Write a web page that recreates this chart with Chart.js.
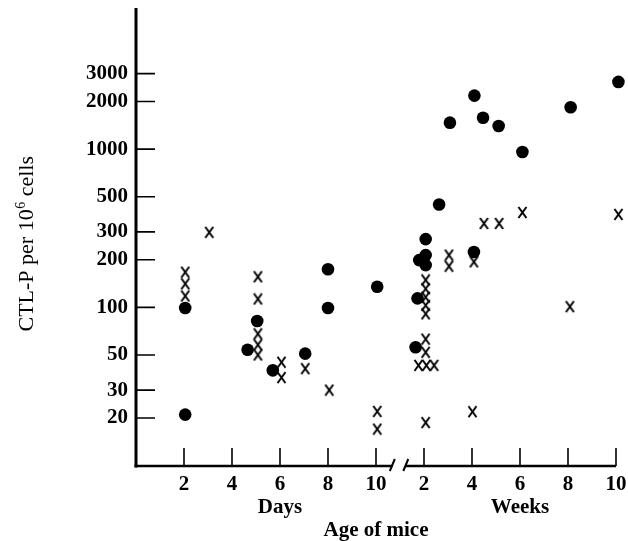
<!DOCTYPE html>
<html><head><meta charset="utf-8">
<script src="https://cdn.jsdelivr.net/npm/chart.js@4.4.1/dist/chart.umd.min.js"></script>
<style>html,body{margin:0;padding:0;background:#fff;}#wrap{width:628px;height:541px;}</style>
</head><body><div id="wrap"><canvas id="c" width="628" height="541"></canvas></div>
<script>
// Tick labels
const yTicks = [20, 30, 50, 100, 200, 300, 500, 1000, 2000, 3000];
const dayTicks = [2, 4, 6, 8, 10];
const weekTicks = [2, 4, 6, 8, 10];
const WEEK_OFFSET = 10; // weeks section starts after the axis break

// Filled circles, age in days
const dayCircleAge = [2.05, 2.05, 5.05, 4.65, 5.7, 7.05, 8.0, 8.0, 10.05];
const dayCircleCTLP = [99, 21, 82, 54, 40, 51, 174, 99, 135];
// Filled circles, age in weeks
const weekCircleAge = [3.08, 4.1, 4.46, 5.11, 6.1, 8.11, 10.1, 2.63, 2.07, 2.07, 1.8, 2.07, 4.08, 1.73, 1.65];
const weekCircleCTLP = [1470, 2180, 1580, 1400, 960, 1840, 2660, 447, 270, 214, 199, 185, 224, 114, 56];
// Crosses, age in days
const dayCrossAge = [2.05, 2.05, 2.05, 3.05, 5.08, 5.08, 5.08, 5.08, 5.08, 6.06, 6.06, 7.05, 8.05, 10.05, 10.05];
const dayCrossCTLP = [167, 141, 118, 298, 156, 113, 68, 58, 50, 45, 36, 41, 30, 22, 17];
// Crosses, age in weeks
const weekCrossAge = [4.5, 5.13, 6.1, 10.1, 3.04, 3.04, 4.08, 2.07, 2.07, 2.07, 2.07, 2.07, 2.07, 2.07, 1.77, 2.1, 2.42, 2.07, 4.02, 8.08];
const weekCrossCTLP = [339, 339, 398, 387, 214, 182, 194, 149, 131, 116, 103, 91, 63, 52, 43, 43, 43, 18.7, 21.9, 101];

const toPoints = (ages, vals, off) => ages.map((a, i) => ({x: a + off, y: vals[i]}));

const circlePts = toPoints(dayCircleAge, dayCircleCTLP, 0).concat(toPoints(weekCircleAge, weekCircleCTLP, WEEK_OFFSET));
const crossPts = toPoints(dayCrossAge, dayCrossCTLP, 0).concat(toPoints(weekCrossAge, weekCrossCTLP, WEEK_OFFSET));

// cross marker image
const xImg = document.createElement('canvas');
xImg.width = 11; xImg.height = 13;
(function(){
  const g = xImg.getContext('2d');
  g.strokeStyle = '#000'; g.lineWidth = 2; g.lineCap = 'butt';
  g.beginPath();
  g.moveTo(1.5, 1); g.quadraticCurveTo(5.5, 6.5, 9.5, 12);
  g.moveTo(9.5, 1); g.quadraticCurveTo(5.5, 6.5, 1.5, 12);
  g.stroke();
})();

const SERIF = '"Liberation Serif", "Times New Roman", serif';

const decor = {
  id: 'decor',
  afterDraw(chart) {
    const {ctx, chartArea: a, scales: {x, y}} = chart;
    ctx.save();
    ctx.strokeStyle = '#000'; ctx.fillStyle = '#000';
    // y axis line
    ctx.lineWidth = 3;
    ctx.beginPath(); ctx.moveTo(a.left, a.top); ctx.lineTo(a.left, a.bottom + 1.5); ctx.stroke();
    // x axis line with break
    const b1 = x.getPixelForValue(10.7), b2 = x.getPixelForValue(11.22);
    ctx.lineWidth = 2.7;
    ctx.beginPath(); ctx.moveTo(a.left - 1.5, a.bottom); ctx.lineTo(b1, a.bottom);
    ctx.moveTo(b2, a.bottom); ctx.lineTo(a.right, a.bottom); ctx.stroke();
    ctx.lineWidth = 2;
    ctx.beginPath();
    ctx.moveTo(b1 - 3, a.bottom + 5); ctx.lineTo(b1 + 2, a.bottom - 7);
    ctx.moveTo(b2 - 2, a.bottom + 5); ctx.lineTo(b2 + 3, a.bottom - 7);
    ctx.stroke();
    // inward ticks
    ctx.lineWidth = 1.6;
    ctx.beginPath();
    y.ticks.forEach(t => { const py = y.getPixelForValue(t.value); ctx.moveTo(a.left, py); ctx.lineTo(a.left + 19, py); });
    x.ticks.forEach(t => { const px = x.getPixelForValue(t.value); ctx.moveTo(px, a.bottom); ctx.lineTo(px, a.bottom - 18); });
    ctx.stroke();
    // axis captions
    ctx.font = 'bold 21px ' + SERIF;
    ctx.textAlign = 'center'; ctx.textBaseline = 'alphabetic';
    ctx.fillText('Days', x.getPixelForValue(6), 513);
    ctx.fillText('Weeks', x.getPixelForValue(6 + WEEK_OFFSET), 513);
    ctx.fillText('Age of mice', x.getPixelForValue(10), 536);
    // y title with superscript
    ctx.translate(33, 244);
    ctx.rotate(-Math.PI / 2);
    ctx.textAlign = 'left';
    const f1 = '22px ' + SERIF, f2 = '14px ' + SERIF;
    ctx.font = f1; const s1 = 'CTL-P per 10', s3 = ' cells';
    const w1 = ctx.measureText(s1).width, w3 = ctx.measureText(s3).width;
    ctx.font = f2; const w2 = ctx.measureText('6').width;
    let pos = -(w1 + w2 + w3) / 2;
    ctx.font = f1; ctx.fillText(s1, pos, 0); pos += w1;
    ctx.font = f2; ctx.fillText('6', pos + 0.5, -8); pos += w2 + 0.5;
    ctx.font = f1; ctx.fillText(s3, pos, 0);
    ctx.restore();
  }
};

new Chart(document.getElementById('c'), {
  type: 'scatter',
  data: {
    datasets: [
      {label: 'circles', data: circlePts, pointStyle: 'circle', pointRadius: 6.3, backgroundColor: '#000', borderColor: '#000', borderWidth: 0, clip: false},
      {label: 'crosses', data: crossPts, pointStyle: xImg, pointRadius: 6, backgroundColor: '#000', borderColor: '#000', clip: false}
    ]
  },
  options: {
    responsive: false, animation: false, devicePixelRatio: 1, events: [],
    layout: {padding: {top: 8, right: 12, left: 0, bottom: 0}},
    plugins: {legend: {display: false}, tooltip: {enabled: false}},
    scales: {
      x: {
        type: 'linear', min: 0, max: 20,
        afterBuildTicks: s => { s.ticks = dayTicks.map(v => ({value: v})).concat(weekTicks.map(v => ({value: v + WEEK_OFFSET}))); },
        afterFit: s => { s.height = 75; s.paddingLeft = 0; s.paddingRight = 0; },
        ticks: {autoSkip: false, maxRotation: 0, padding: 6, color: '#000', font: {family: SERIF, size: 21, weight: 'bold'},
          callback: v => v > WEEK_OFFSET ? String(v - WEEK_OFFSET) : String(v)},
        grid: {display: false, drawTicks: false},
        border: {display: false}
      },
      y: {
        type: 'logarithmic', min: 9.94, max: 7800, bounds: 'data',
        afterBuildTicks: s => { s.ticks = yTicks.map(v => ({value: v})); },
        afterFit: s => { s.width = 136; s.paddingTop = 0; s.paddingBottom = 0; },
        ticks: {autoSkip: false, padding: 8, color: '#000', font: {family: SERIF, size: 21, weight: 'bold'}, callback: v => String(v)},
        grid: {display: false, drawTicks: false},
        border: {display: false}
      }
    }
  },
  plugins: [decor]
});
</script>
</body></html>
